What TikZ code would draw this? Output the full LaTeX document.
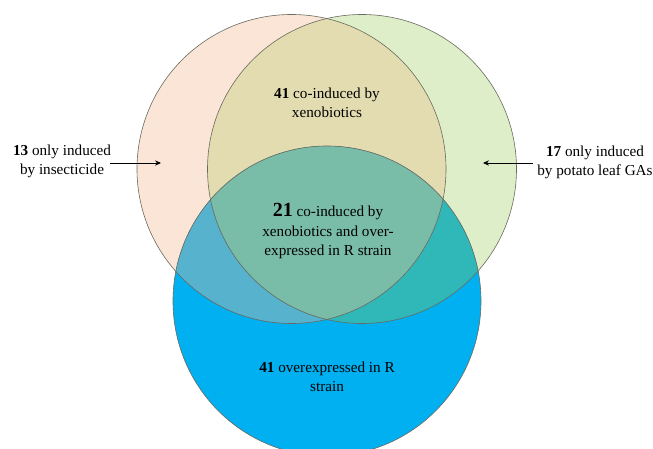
\documentclass[tikz,border=0pt]{standalone}
\usepackage{fontspec}
\setmainfont{Liberation Serif}
\usetikzlibrary{arrows.meta}
\definecolor{cPeach}{RGB}{251,229,214}
\definecolor{cGreen}{RGB}{221,238,200}
\definecolor{cBlue}{RGB}{0,176,240}
\definecolor{cLR}{RGB}{227,220,176}
\definecolor{cLB}{RGB}{86,178,205}
\definecolor{cRB}{RGB}{48,184,185}
\definecolor{cLRB}{RGB}{121,188,168}
\definecolor{cEdge}{RGB}{105,105,95}
\begin{document}
\begin{tikzpicture}[x=0.75pt,y=-0.75pt,
  lbl/.style={font=\fontsize{11.4}{14.3}\selectfont, align=center, inner sep=0pt},
  pointer/.style={-{Stealth[length=4.5pt,width=4pt]}, line width=0.7pt},
  rim/.style={draw=cEdge, line width=0.45pt}]
\useasboundingbox (0,0) rectangle (653,449);
\clip (0,0) rectangle (653,449);
% base fills
\fill[cPeach] (291.5,169) circle [radius=154.5];
\fill[cGreen] (362,169) circle [radius=154.5];
\fill[cBlue] (327,301) ellipse [x radius=154, y radius=155];
% overlaps
\begin{scope}
  \clip (291.5,169) circle [radius=154.5];
  \fill[cLR] (362,169) circle [radius=154.5];
  \fill[cLB] (327,301) ellipse [x radius=154, y radius=155];
\end{scope}
\begin{scope}
  \clip (362,169) circle [radius=154.5];
  \fill[cRB] (327,301) ellipse [x radius=154, y radius=155];
  \clip (291.5,169) circle [radius=154.5];
  \fill[cLRB] (327,301) ellipse [x radius=154, y radius=155];
\end{scope}
% outlines
\draw[rim] (291.5,169) circle [radius=154.5];
\draw[rim] (362,169) circle [radius=154.5];
\draw[rim] (327,301) ellipse [x radius=154, y radius=155];
% labels
\node[lbl] (t13) at (62,161) {\textbf{13} only induced\\by insecticide};
\node[lbl] (t17) at (595,162) {\textbf{17} only induced\\by potato leaf GAs};
\node[lbl] (t41a) at (327,102.5) {\textbf{41} co-induced by\\xenobiotics};
\node[lbl] (t21) at (328,231) {{\fontsize{15}{15}\selectfont\textbf{21}} co-induced by\\xenobiotics and over-\\expressed in R strain};
\node[lbl] (t41b) at (327,377) {\textbf{41} overexpressed in R\\strain};
% arrows
\coordinate (la) at (110,163);
\coordinate (lt) at (161,163);
\coordinate (ra) at (533,163);
\coordinate (rt) at (483,163);
\draw[pointer] (la) -- (lt);
\draw[pointer] (ra) -- (rt);
\end{tikzpicture}
\end{document}
